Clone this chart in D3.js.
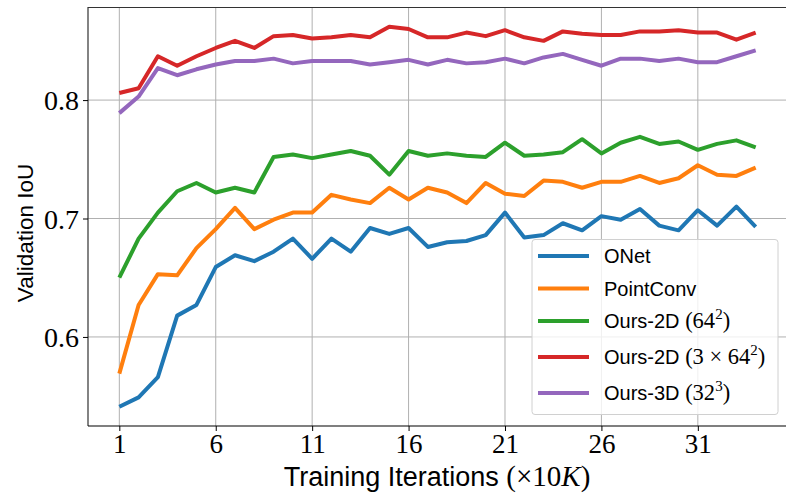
<!DOCTYPE html>
<html>
<head>
<meta charset="utf-8">
<script src="https://cdn.jsdelivr.net/npm/d3@7"></script>
<style>
  body { margin: 0; background: #fff; }
  svg { display: block; }
  .tick text { font-family: "Liberation Serif", serif; }
</style>
</head>
<body>
<svg id="chart"></svg>
<script>
// training iterations (x10K)
const iterations = d3.range(1, 35);
const xTicks = [1, 6, 11, 16, 21, 26, 31];
const yTicks = [0.6, 0.7, 0.8];

const onet = [0.541, 0.549, 0.566, 0.618, 0.627, 0.659, 0.669, 0.664, 0.672, 0.683,
  0.666, 0.683, 0.672, 0.692, 0.687, 0.692, 0.676, 0.680, 0.681, 0.686,
  0.705, 0.684, 0.686, 0.696, 0.690, 0.702, 0.699, 0.708, 0.694, 0.690,
  0.707, 0.694, 0.710, 0.693];
const pointconv = [0.569, 0.627, 0.653, 0.652, 0.675, 0.691, 0.709, 0.691, 0.699, 0.705,
  0.705, 0.720, 0.716, 0.713, 0.726, 0.716, 0.726, 0.722, 0.713, 0.730,
  0.721, 0.719, 0.732, 0.731, 0.726, 0.731, 0.731, 0.736, 0.730, 0.734,
  0.745, 0.737, 0.736, 0.743];
const ours2d = [0.650, 0.683, 0.705, 0.723, 0.730, 0.722, 0.726, 0.722, 0.752, 0.754,
  0.751, 0.754, 0.757, 0.753, 0.737, 0.757, 0.753, 0.755, 0.753, 0.752,
  0.764, 0.753, 0.754, 0.756, 0.767, 0.755, 0.764, 0.769, 0.763, 0.765,
  0.758, 0.763, 0.766, 0.760];
const ours2d3 = [0.806, 0.810, 0.837, 0.829, 0.837, 0.844, 0.850, 0.844, 0.854, 0.855,
  0.852, 0.853, 0.855, 0.853, 0.862, 0.860, 0.853, 0.853, 0.857, 0.854,
  0.859, 0.853, 0.850, 0.858, 0.856, 0.855, 0.855, 0.858, 0.858, 0.859,
  0.857, 0.857, 0.851, 0.857];
const ours3d = [0.789, 0.803, 0.827, 0.821, 0.826, 0.830, 0.833, 0.833, 0.835, 0.831,
  0.833, 0.833, 0.833, 0.830, 0.832, 0.834, 0.830, 0.834, 0.831, 0.832,
  0.835, 0.831, 0.836, 0.839, 0.834, 0.829, 0.835, 0.835, 0.833, 0.835,
  0.832, 0.832, 0.837, 0.842];

const series = [
  { name: "ONet", values: onet, color: "#1f77b4" },
  { name: "PointConv", values: pointconv, color: "#ff7f0e" },
  { name: "Ours-2D", math: [["(64", ""], ["2", "sup"], [")", ""]], values: ours2d, color: "#2ca02c" },
  { name: "Ours-2D", math: [["(3 \u00d7 64", ""], ["2", "sup"], [")", ""]], values: ours2d3, color: "#d62728" },
  { name: "Ours-3D", math: [["(32", ""], ["3", "sup"], [")", ""]], values: ours3d, color: "#9467bd" }
];

const width = 786, height = 497;
const svg = d3.select("#chart").attr("width", width).attr("height", height);

const x = d3.scaleLinear().domain([-0.65, 35.65]).range([87.5, 787.5]);
const y = d3.scaleLinear().domain([0.5248, 0.8786]).range([426, 7]);

// grid
const grid = svg.append("g").attr("stroke", "#b0b0b0").attr("stroke-width", 1);
grid.selectAll(".gx").data(xTicks).enter().append("line")
  .attr("x1", d => x(d)).attr("x2", d => x(d))
  .attr("y1", 7).attr("y2", 426);
grid.selectAll(".gy").data(yTicks).enter().append("line")
  .attr("x1", 88).attr("x2", 788)
  .attr("y1", d => y(d)).attr("y2", d => y(d));

// lines
const line = d3.line().x((d, i) => x(iterations[i])).y(d => y(d));
svg.append("g").selectAll("path")
  .data(series)
  .enter().append("path")
  .attr("d", d => line(d.values))
  .attr("fill", "none")
  .attr("stroke", d => d.color)
  .attr("stroke-width", 4)
  .attr("stroke-linejoin", "round");

// spines
svg.append("path")
  .attr("d", "M88,426V7.5H788")
  .attr("fill", "none").attr("stroke", "#333").attr("stroke-width", 1.2);

// axes
const xAxis = svg.append("g").attr("transform", "translate(0,426)")
  .call(d3.axisBottom(x).tickValues(xTicks).tickSize(5).tickPadding(4).tickFormat(d3.format("d")));
xAxis.select(".domain").attr("d", "M88,0H788").attr("stroke", "#000").attr("stroke-width", 1.2);
xAxis.selectAll(".tick text").attr("font-size", 27).attr("fill", "#000").attr("dy", "0.68em");

const yAxis = svg.append("g").attr("transform", "translate(88,0)")
  .call(d3.axisLeft(y).tickValues(yTicks).tickSize(5).tickPadding(4).tickFormat(d3.format(".1f")));
yAxis.select(".domain").remove();
yAxis.selectAll(".tick text").attr("font-size", 28).attr("fill", "#000").attr("dy", "0.34em");

// axis labels
const xl = svg.append("text")
  .attr("x", 437).attr("y", 486)
  .attr("text-anchor", "middle")
  .attr("font-family", "Liberation Sans").attr("font-size", 27);
xl.append("tspan").text("Training Iterations ");
xl.append("tspan").attr("font-family", "Liberation Serif").attr("font-size", 29).text("(\u00d710");
xl.append("tspan").attr("font-family", "Liberation Serif").attr("font-style", "italic").attr("font-size", 29).text("K");
xl.append("tspan").attr("font-family", "Liberation Serif").attr("font-size", 29).text(")");

svg.append("text")
  .attr("transform", "translate(33,233) rotate(-90)")
  .attr("text-anchor", "middle")
  .attr("font-family", "Liberation Sans").attr("font-size", 22.5)
  .text("Validation IoU");

// legend
const legend = svg.append("g");
legend.append("rect")
  .attr("x", 532).attr("y", 239.5).attr("width", 246).attr("height", 175)
  .attr("rx", 3)
  .attr("fill", "#fff").attr("fill-opacity", 0.8)
  .attr("stroke", "#d0d0d0").attr("stroke-width", 1);

const rowY = [256, 288.5, 321, 357, 393];
const item = legend.selectAll(".item").data(series).enter().append("g")
  .attr("transform", (d, i) => `translate(0,${rowY[i]})`);
item.append("line")
  .attr("x1", 538).attr("x2", 589)
  .attr("stroke", d => d.color).attr("stroke-width", 4);
const lt = item.append("text")
  .attr("x", 604).attr("y", 7)
  .attr("font-family", "Liberation Sans").attr("font-size", 20);
lt.append("tspan").text(d => d.math ? d.name + " " : d.name);
lt.each(function(d) {
  if (!d.math) return;
  const t = d3.select(this);
  d.math.forEach(([s, kind]) => {
    const sp = t.append("tspan").attr("font-family", "Liberation Serif").text(s);
    if (kind === "sup") sp.attr("font-size", 15).attr("dy", -9);
    else sp.attr("font-size", 22.5);
    if (kind === "" && s === ")") sp.attr("dy", 9);
  });
});
</script>
</body>
</html>
